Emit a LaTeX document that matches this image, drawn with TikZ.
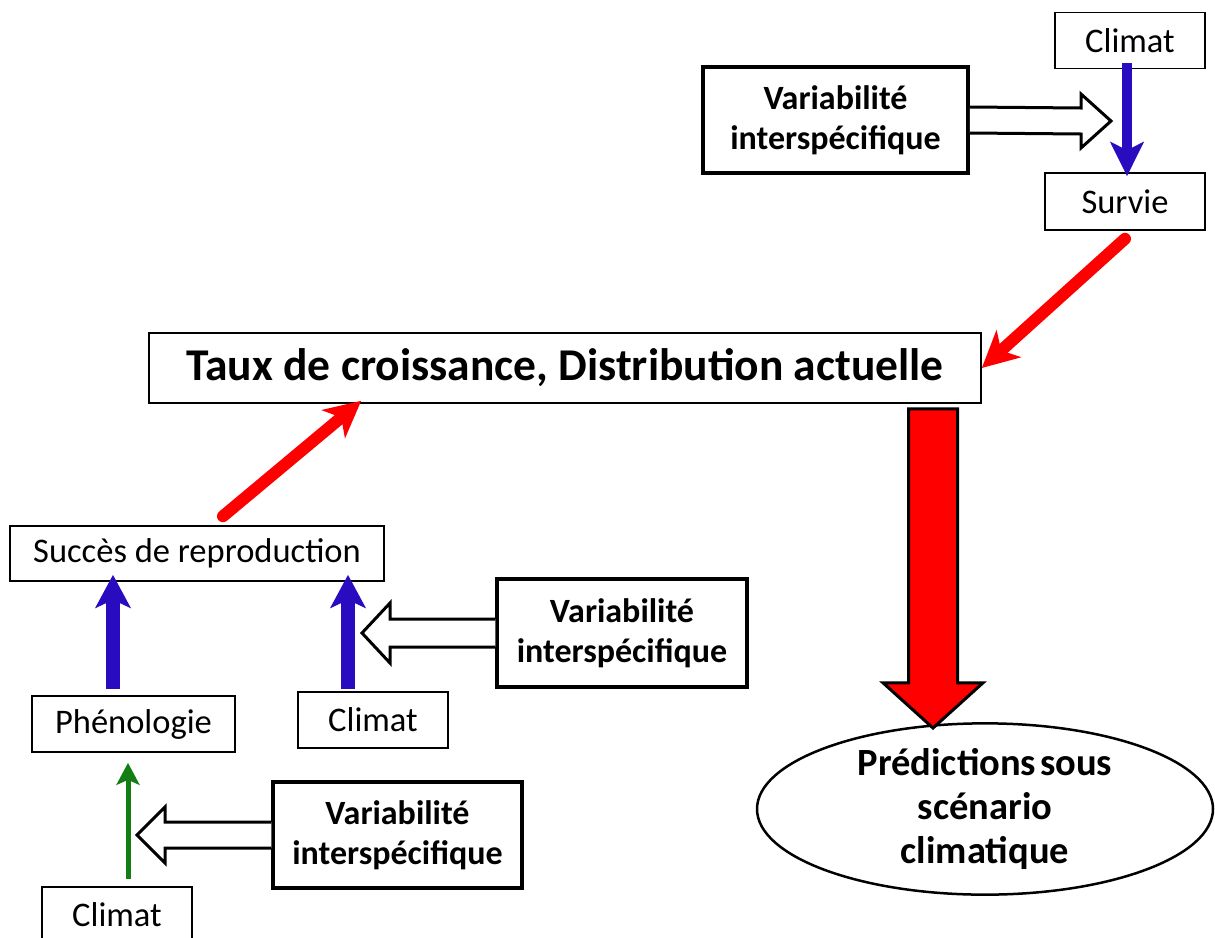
\documentclass[tikz,border=0pt]{standalone}
\usepackage{fontspec}
\setmainfont{Carlito}
\usetikzlibrary{arrows.meta,shapes.geometric,calc}

\definecolor{bleufl}{RGB}{42,12,192}
\definecolor{vertfl}{RGB}{20,125,20}

\tikzset{
    boite/.style={draw, line width=1.6pt, inner sep=0pt, minimum width=150pt, minimum height=56pt,
        font=\fontsize{34.5}{40}\selectfont},
    varbox/.style={draw, line width=3.5pt, inner sep=0pt, align=center, minimum height=106pt,
        font=\fontsize{34}{40}\selectfont\bfseries},
    hollow/.style={fill=white, draw=black, line width=3pt, line join=miter},
    fleche bleue/.style={draw=bleufl, line width=14pt, -{Stealth[length=33pt,width=35pt,inset=8pt]}},
    fleche rouge/.style={draw=red, line width=12pt, line cap=round, -{Stealth[length=36pt,width=36pt,inset=10pt]}},
    fleche verte/.style={draw=vertfl, line width=5pt, -{Stealth[length=22pt,width=23pt,inset=5pt]}}
}

\begin{document}
\begin{tikzpicture}[x=1pt,y=-1pt]
    \useasboundingbox (0,0) rectangle (1215,937);

    %survie
    \node[boite] (climT) at (1130,40.5) {Climat};
    \node[boite, minimum width=160pt, minimum height=57pt] (survie) at (1125,201.5) {Survie};
    \node[varbox, minimum width=265pt] (varT) at (835.5,120) {Variabilité\\interspécifique};
    \coordinate (tipT) at (1111,121);
    \filldraw[hollow] ($(varT.east)+(0,-13)$) -- ($(tipT)+(-30,-13)$) -- ($(tipT)+(-30,-27)$) -- (tipT)
        -- ($(tipT)+(-30,27)$) -- ($(tipT)+(-30,13)$) -- ($(varT.east)+(0,13)$);
    \draw[fleche bleue, line width=10pt, -{Stealth[length=34pt,width=33pt,inset=8pt]}]
        ([xshift=-3pt,yshift=6pt]climT.south) -- ([xshift=2pt,yshift=-4pt]survie.north);

    %taux de croissance
    \node[boite, minimum width=832pt, minimum height=70pt, font=\fontsize{45.5}{50}\selectfont\bfseries]
        (taux) at (565,368) {Taux de croissance, Distribution actuelle};
    \draw[fleche rouge] ([yshift=-8pt]survie.south) -- (taux.east);

    %reproduction
    \node[boite, minimum width=374pt, minimum height=55pt] (succ) at (197,553.5) {Succès de reproduction};
    \node[boite, minimum width=203pt] (phen) at (133.5,724) {Phénologie};
    \node[boite] (climM) at (373,720) {Climat};
    \node[boite] (climB) at (117,915) {Climat};
    \node[varbox, minimum width=250pt, minimum height=108pt] (varM) at (622,633) {Variabilité\\interspécifique};
    \node[varbox, minimum width=249pt] (varB) at (397.5,835) {Variabilité\\interspécifique};
    \draw[fleche rouge] ([xshift=26pt,yshift=9pt]succ.north) -- ([xshift=213pt,yshift=3pt]taux.south west);
    \draw[fleche bleue] ([xshift=-20.5pt,yshift=6pt]phen.north) -- ([xshift=-84pt,yshift=7pt]succ.south);
    \draw[fleche bleue] ([xshift=-25pt,yshift=2pt]climM.north) -- ([xshift=151pt,yshift=7pt]succ.south);
    \draw[fleche verte] ([xshift=11pt,yshift=7pt]climB.north) -- ([xshift=-5.5pt,yshift=-10pt]phen.south);
    \coordinate (tipM) at (362,633);
    \filldraw[hollow] ($(varM.west)+(0,-14)$) -- ($(tipM)+(28,-14)$) -- ($(tipM)+(28,-30)$) -- (tipM)
        -- ($(tipM)+(28,30)$) -- ($(tipM)+(28,14)$) -- ($(varM.west)+(0,14)$);
    \coordinate (tipB) at (137,835);
    \filldraw[hollow] ($(varB.west)+(0,-13)$) -- ($(tipB)+(28,-13)$) -- ($(tipB)+(28,-28)$) -- (tipB)
        -- ($(tipB)+(28,28)$) -- ($(tipB)+(28,13)$) -- ($(varB.west)+(0,13)$);

    %predictions
    \node[ellipse, draw, line width=2.5pt, inner sep=0pt, minimum width=456pt, minimum height=158pt,
        align=center, font=\fontsize{38.5}{44}\selectfont\bfseries] (pred) at (985,809)
        {Prédictions\hspace{0.1em}sous\\scénario\\climatique};
    \coordinate (bigtip) at (933,728);
    \coordinate (bigtop) at ([yshift=-5pt]taux.south -| bigtip);
    \filldraw[fill=red, draw=black, line width=3pt] ($(bigtop)+(-24.5,0)$) -- ($(bigtop)+(-24.5,274)$)
        -- ($(bigtop)+(-50,274)$) -- (bigtip) -- ($(bigtop)+(50,274)$) -- ($(bigtop)+(24.5,274)$)
        -- ($(bigtop)+(24.5,0)$) -- cycle;
\end{tikzpicture}
\end{document}
